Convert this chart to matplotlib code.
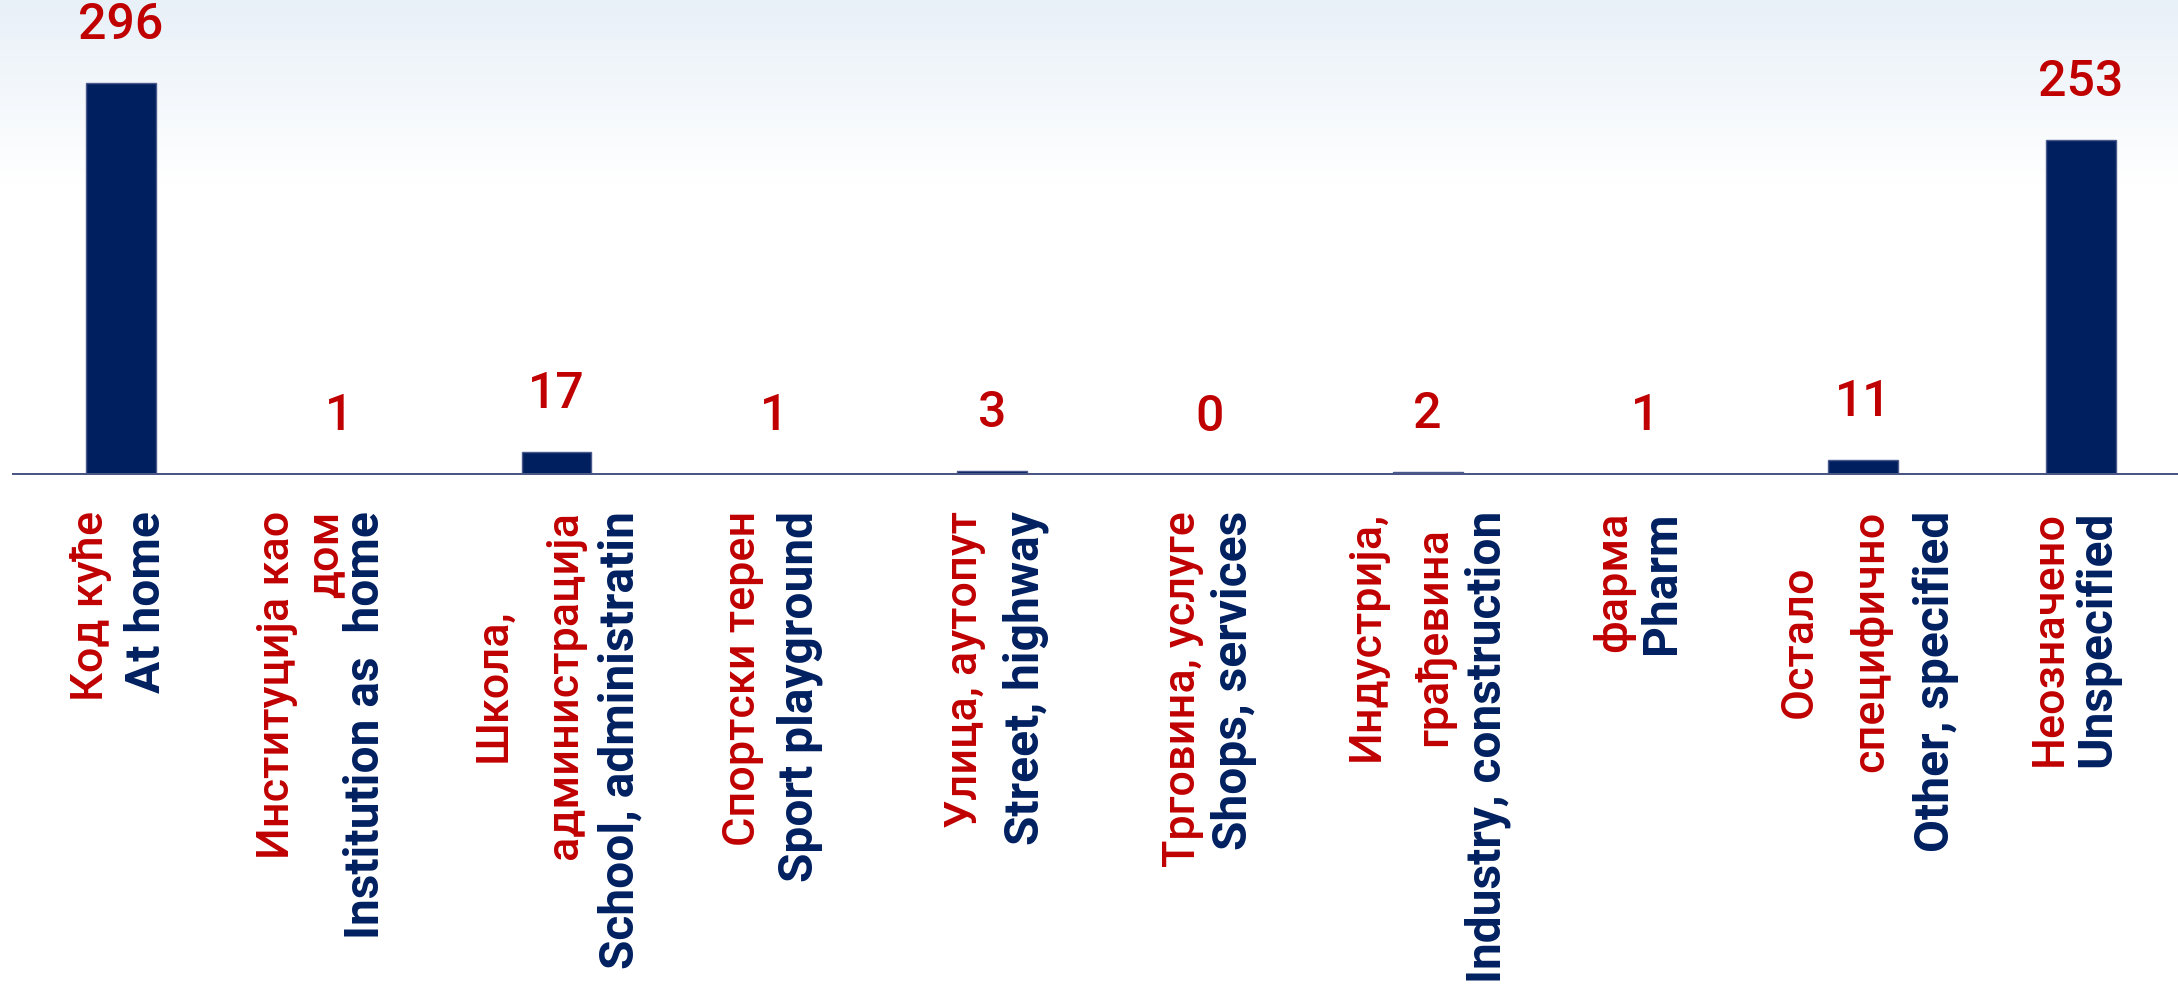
import numpy as np
import matplotlib
matplotlib.use('Agg')
import matplotlib.pyplot as plt
from matplotlib import transforms

plt.rcParams['font.family'] = ['Roboto', 'DejaVu Sans']

# data
values = [296, 1, 17, 1, 3, 0, 2, 1, 11, 253]
labels_sr = ["Код куће", "Институција као\nдом", "Школа,\nадминистрација",
             "Спортски терен", "Улица, аутопут", "Трговина, услуге",
             "Индустрија,\nграђевина", "фарма", "Остало\nспецифично", "Неозначено"]
labels_en = ["At home", "Institution as  home", "School, administratin",
             "Sport playground", "Street, highway", "Shops, services",
             "Industry, construction", "Pharm", "Other, specified", "Unspecified"]

# layout (pixels from bar centre for each label line, serbian lines then english)
line_dx = [[-30, 26], [-62, -13, 27], [-63, 8, 64], [-31, 25], [-27, 34],
           [-27, 24], [-61, 6, 60], [-32, 17], [-64, 7, 72], [-31, 16]]
sr_align = ['right', 'right', 'center', 'right', 'right',
            'right', 'center', 'right', 'center', 'right']

RED = '#c00000'
NAVY = '#002060'
W, H = 2178, 999
STEP = 217.8  # px per category
PX_UNIT = 1.324  # px per value unit

fig = plt.figure(figsize=(W / 100, H / 100), dpi=100)

# background gradient
bg = fig.add_axes([0, 0, 1, 1])
rows = np.arange(H)
t = np.clip(rows / 185.0, 0, 1)[:, None]
top = np.array([232, 240, 248]) / 255.0
grad = top + (1 - top) * t
img = np.repeat(grad[:, None, :], 2, axis=1)
bg.imshow(img, aspect='auto', extent=[0, 1, 0, 1], origin='upper')
bg.set_axis_off()

base_px = H - 475  # axis line position from bottom
left_px = 12
ax = fig.add_axes([left_px / W, base_px / H, (W - left_px) / W, (H - base_px) / H])
ax.patch.set_alpha(0)
x = np.arange(len(values))
ax.set_xlim(-0.5, -0.5 + (W - left_px) / STEP)
ax.set_ylim(0, (H - base_px) / PX_UNIT)
ax.bar(x, values, width=0.32, color='#001f5f', edgecolor='#4a5a8c', linewidth=1, zorder=2)
ax.axhline(0, color='#4a5683', linewidth=3.6, zorder=3)
for s in ax.spines.values():
    s.set_visible(False)
ax.set_xticks([])
ax.set_yticks([])

for i, v in enumerate(values):
    ax.annotate(str(v), (i, v), xytext=(0, 58 * 0.72), textcoords='offset points',
                ha='center', va='center', color=RED, fontsize=36, fontweight='medium')

# category labels
trans = transforms.blended_transform_factory(ax.transData, fig.transFigure)
top_y = (H - 511) / H
blocks = []
for i in range(len(values)):
    sr_lines = labels_sr[i].split('\n')
    texts = []
    for j, line in enumerate(sr_lines):
        tx = ax.text(i + line_dx[i][j] / STEP, top_y, line, transform=trans,
                     rotation=90, ha='center', va='top', color=RED, fontsize=32.4,
                     fontweight='medium')
        texts.append(tx)
    ax.text(i + line_dx[i][-1] / STEP, top_y, labels_en[i], transform=trans,
            rotation=90, ha='center', va='top', color=NAVY, fontsize=34.5,
            fontweight='bold')
    blocks.append(texts)

fig.canvas.draw()
r = fig.canvas.get_renderer()
for i, texts in enumerate(blocks):
    if sr_align[i] != 'center' or len(texts) < 2:
        continue
    ext = [tx.get_window_extent(renderer=r) for tx in texts]
    k = int(np.argmax([e.height for e in ext]))
    mid = (ext[k].y0 + ext[k].y1) / 2 / H
    for j, tx in enumerate(texts):
        if j != k:
            tx.set_va('center')
            tx.set_y(mid)

fig.savefig('out.png', dpi=100)
